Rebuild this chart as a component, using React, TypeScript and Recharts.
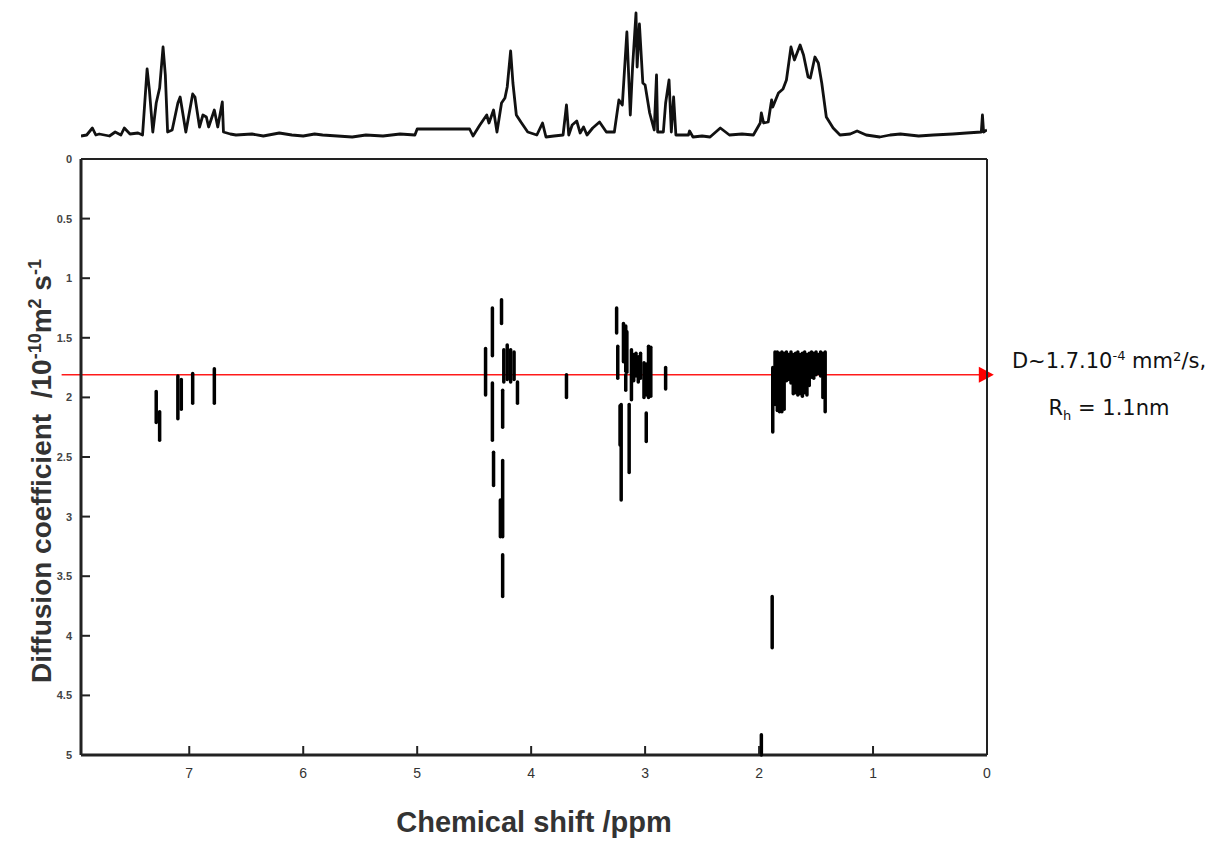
import { ComposedChart, LineChart, Line, Scatter, XAxis, YAxis, ReferenceLine } from 'recharts';

// chemical shift axis (ppm, reversed) and diffusion axis (inverted)
const PPM_MAX = 7.95;
const xTicks = [7, 6, 5, 4, 3, 2, 1, 0];
const yTicks = [0, 0.5, 1, 1.5, 2, 2.5, 3, 3.5, 4, 4.5, 5];
const bandD = 1.81;

// 1D proton spectrum on top: [ppm, intensity]
const spectrumPoints: [number, number][] = [
  [7.95, 4], [7.9, 5], [7.85, 12], [7.82, 5], [7.79, 6], [7.7, 4], [7.65, 8], [7.6, 5],
  [7.57, 12], [7.52, 6], [7.45, 7], [7.41, 5], [7.37, 71], [7.35, 50], [7.32, 8],
  [7.29, 37], [7.26, 52], [7.23, 93], [7.21, 65], [7.19, 8], [7.15, 10], [7.1, 37],
  [7.08, 43], [7.03, 8], [6.97, 46], [6.95, 43], [6.91, 13], [6.88, 25], [6.85, 23],
  [6.83, 13], [6.78, 30], [6.75, 13], [6.71, 38], [6.7, 8], [6.64, 6], [6.59, 5],
  [6.45, 6], [6.35, 4], [6.21, 7], [6.1, 5], [6.0, 4], [5.9, 6], [5.83, 5], [5.7, 4],
  [5.57, 3], [5.45, 5], [5.3, 4], [5.15, 6], [5.02, 5], [5.0, 11], [4.54, 11],
  [4.51, 4], [4.45, 15], [4.39, 25], [4.37, 17], [4.33, 30], [4.3, 8], [4.26, 37],
  [4.23, 42], [4.21, 53], [4.18, 89], [4.16, 57], [4.13, 25], [4.09, 18], [4.03, 8],
  [3.95, 5], [3.9, 17], [3.87, 3], [3.8, 4], [3.72, 5], [3.69, 35], [3.67, 5],
  [3.64, 15], [3.6, 19], [3.57, 7], [3.54, 13], [3.51, 5], [3.46, 12], [3.4, 18],
  [3.34, 8], [3.27, 8], [3.23, 40], [3.2, 35], [3.16, 108], [3.13, 25], [3.11, 73],
  [3.08, 127], [3.07, 73], [3.05, 116], [3.02, 57], [3.0, 55], [2.96, 27], [2.92, 10],
  [2.9, 65], [2.89, 8], [2.84, 8], [2.82, 37], [2.79, 60], [2.77, 8], [2.75, 43],
  [2.73, 5], [2.62, 5], [2.61, 9], [2.58, 3], [2.5, 4], [2.43, 3], [2.34, 12],
  [2.26, 5], [2.15, 6], [2.05, 5], [1.99, 17], [1.98, 27], [1.96, 17], [1.92, 18],
  [1.89, 40], [1.88, 33], [1.83, 47], [1.79, 51], [1.76, 60], [1.72, 93], [1.69, 80],
  [1.64, 95], [1.61, 85], [1.57, 63], [1.55, 62], [1.51, 83], [1.48, 77], [1.45, 57],
  [1.41, 23], [1.35, 12], [1.29, 5], [1.2, 6], [1.14, 9], [1.06, 5], [0.94, 3],
  [0.85, 5], [0.76, 6], [0.6, 4], [0.47, 5], [0.3, 6], [0.18, 7], [0.05, 8],
  [0.04, 25], [0.03, 8], [0.0, 10],
];

// DOSY cross peaks: [ppm, D top, D bottom]
const aromaticSpots: [number, number, number][] = [
  [7.29, 1.95, 2.21], [7.26, 2.12, 2.36], [7.1, 1.82, 2.18], [7.07, 1.85, 2.1],
  [6.97, 1.8, 2.05], [6.78, 1.76, 2.05],
];
const glycerolSpots: [number, number, number][] = [
  [4.4, 1.59, 1.98], [4.34, 1.25, 1.65], [4.34, 1.88, 2.36], [4.33, 2.46, 2.74],
  [4.26, 1.18, 1.38], [4.24, 1.6, 1.87], [4.21, 1.56, 1.85], [4.18, 1.6, 1.87],
  [4.15, 1.62, 1.85], [4.25, 1.94, 2.25], [4.12, 1.87, 2.05], [4.25, 2.53, 3.17],
  [4.27, 2.86, 3.17], [4.25, 3.32, 3.67], [3.69, 1.81, 2.0],
];
const methylSpots: [number, number, number][] = [
  [3.25, 1.25, 1.46], [3.24, 1.57, 1.84], [3.21, 2.06, 2.86], [3.22, 2.07, 2.4],
  [3.19, 1.38, 1.7], [3.17, 1.4, 1.78], [3.16, 1.45, 1.79], [3.17, 1.81, 1.94],
  [3.14, 2.06, 2.63], [3.12, 1.6, 2.02], [3.1, 1.64, 1.86], [3.08, 1.63, 1.82],
  [3.06, 1.66, 1.87], [3.04, 1.63, 1.84], [3.01, 1.71, 2.0], [2.99, 1.72, 1.98],
  [2.97, 1.57, 2.0], [2.95, 1.58, 1.99], [2.99, 2.13, 2.37], [2.82, 1.75, 1.93],
];
const aliphaticSpots: [number, number, number][] = [
  [1.88, 1.75, 2.29], [1.86, 1.62, 2.06], [1.84, 1.62, 2.11], [1.82, 1.63, 2.12],
  [1.8, 1.62, 2.12], [1.78, 1.63, 2.1], [1.76, 1.62, 1.86], [1.74, 1.64, 1.85],
  [1.72, 1.62, 1.88], [1.7, 1.64, 1.97], [1.68, 1.63, 1.96], [1.66, 1.62, 1.98],
  [1.64, 1.64, 1.97], [1.62, 1.63, 1.99], [1.6, 1.62, 1.96], [1.58, 1.64, 1.98],
  [1.56, 1.63, 1.9], [1.54, 1.62, 1.83], [1.52, 1.63, 1.84], [1.5, 1.62, 1.81],
  [1.48, 1.64, 1.8], [1.46, 1.62, 1.82], [1.44, 1.63, 2.0], [1.42, 1.62, 2.12],
];
const slowSpots: [number, number, number][] = [
  [1.885, 3.67, 4.1], [1.98, 4.83, 5.0],
];

const spectrumData = spectrumPoints.map(([ppm, intensity]) => ({ ppm, intensity }));
const allSpots = [...aromaticSpots, ...glycerolSpots, ...methylSpots, ...aliphaticSpots, ...slowSpots];
const spotSegments = allSpots.map(([ppm, d1, d2]) => [{ ppm, d: d1 }, { ppm, d: d2 }]);

const AXIS = '#222';
const narrow = "'Liberation Sans Narrow', 'Liberation Sans', Arial, sans-serif";

function BottomTick(props: any) {
  const { x, y, payload } = props;
  return (
    <g>
      <line x1={x} y1={y} x2={x} y2={y - 9} stroke={AXIS} strokeWidth={2} />
      <text x={x} y={y + 23} textAnchor="middle" fontSize={14} fill="#333" fontFamily={narrow}>
        {payload.value}
      </text>
    </g>
  );
}

function TopTick(props: any) {
  const { x, y } = props;
  return <line x1={x} y1={y} x2={x} y2={y + 8} stroke={AXIS} strokeWidth={2} />;
}

function LeftTick(props: any) {
  const { x, y, payload } = props;
  return (
    <g>
      <line x1={x} y1={y} x2={x + 9} y2={y} stroke={AXIS} strokeWidth={2} />
      <text x={x - 9} y={y + 4} textAnchor="end" fontSize={11} fontWeight="bold" fill="#444"
        fontFamily="'Liberation Sans', Arial, sans-serif">
        {payload.value}
      </text>
    </g>
  );
}

function RightTick(props: any) {
  const { x, y } = props;
  return <line x1={x} y1={y} x2={x - 8} y2={y} stroke={AXIS} strokeWidth={2} />;
}

function RedArrow(props: any) {
  const { x1, y1, x2, y2 } = props;
  return (
    <g>
      <line x1={x1} y1={y1} x2={x2 - 12} y2={y2} stroke="#ff1a1a" strokeWidth={1.6} />
      <polygon points={`${x2},${y2} ${x2 - 15},${y2 - 8} ${x2 - 15},${y2 + 8}`} fill="#ff0000" />
    </g>
  );
}

const NoDot = () => <g />;

export default function App() {
  return (
    <div style={{ position: 'absolute', left: 0, top: 0, width: 1223, height: 841, background: '#fff' }}>
      {/* 1D spectrum */}
      <div style={{ position: 'absolute', left: 0, top: 0 }}>
        <LineChart width={1223} height={150} data={spectrumData}
          margin={{ top: 10, right: 236, bottom: 10, left: 81 }}>
          <XAxis type="number" dataKey="ppm" domain={[0, PPM_MAX]} reversed hide allowDataOverflow />
          <YAxis type="number" domain={[0, 130]} hide allowDataOverflow />
          <Line type="linear" dataKey="intensity" stroke="#111" strokeWidth={2.8} dot={false}
            strokeLinejoin="round" isAnimationActive={false} />
        </LineChart>
      </div>

      {/* DOSY map */}
      <div style={{ position: 'absolute', left: 0, top: 0 }}>
        <ComposedChart width={1223} height={841}
          margin={{ top: 158, right: 235, bottom: 46, left: 21 }}>
          <XAxis xAxisId={0} dataKey="ppm" type="number" domain={[0, PPM_MAX]} reversed ticks={xTicks}
            interval={0} height={40} tickSize={0} tickMargin={0} tickLine={false}
            axisLine={{ stroke: AXIS, strokeWidth: 3 }} tick={<BottomTick />} />
          <XAxis xAxisId="top" dataKey="ppm" orientation="top" type="number" domain={[0, PPM_MAX]} reversed
            ticks={xTicks} interval={0} height={1} tickSize={0} tickMargin={0} tickLine={false}
            axisLine={{ stroke: AXIS, strokeWidth: 2 }} tick={<TopTick />} />
          <YAxis yAxisId={0} dataKey="d" type="number" domain={[0, 5]} reversed ticks={yTicks} interval={0}
            width={60} tickSize={0} tickMargin={0} tickLine={false}
            axisLine={{ stroke: AXIS, strokeWidth: 3 }} tick={<LeftTick />} />
          <YAxis yAxisId="right" dataKey="d" orientation="right" type="number" domain={[0, 5]} reversed
            ticks={yTicks} interval={0} width={1} tickSize={0} tickMargin={0} tickLine={false}
            axisLine={{ stroke: AXIS, strokeWidth: 2 }} tick={<RightTick />} />

          {spotSegments.map((seg, i) => (
            <Scatter key={i} xAxisId={0} yAxisId={0} data={seg} dataKey="d" fill="#000"
              line={{ stroke: '#000', strokeWidth: 3.5, strokeLinecap: 'round' }} lineType="joint"
              shape={<NoDot />} isAnimationActive={false} />
          ))}

          <ReferenceLine xAxisId={0} yAxisId={0} ifOverflow="visible"
            segment={[{ x: 8.12, y: bandD }, { x: -0.06, y: bandD }]} shape={RedArrow} />
        </ComposedChart>
      </div>

      {/* axis titles */}
      <div style={{
        position: 'absolute', left: 35 - 260, top: 471 - 18, width: 520, height: 36, lineHeight: '36px',
        transform: 'rotate(-90deg)', textAlign: 'center', fontFamily: "'Liberation Sans', Arial, sans-serif",
        fontWeight: 'bold', fontSize: 28, color: '#333', whiteSpace: 'nowrap',
      }}>
        Diffusion coefficient&nbsp; /10<sup style={{ fontSize: 18 }}>-10</sup>m<sup style={{ fontSize: 18 }}>2</sup> s<sup style={{ fontSize: 18 }}>-1</sup>
      </div>
      <div style={{
        position: 'absolute', left: 284, top: 806, width: 500, textAlign: 'center',
        fontFamily: "'Liberation Sans', Arial, sans-serif", fontWeight: 'bold', fontSize: 29, color: '#333',
      }}>
        Chemical shift /ppm
      </div>

      {/* annotation */}
      <div style={{
        position: 'absolute', left: 995, top: 338, width: 228, textAlign: 'center',
        fontFamily: "'DejaVu Sans', Verdana, sans-serif", fontSize: 21, lineHeight: '47px', color: '#111',
      }}>
        <div>D~1.7.10<sup style={{ fontSize: 13, lineHeight: 0, color: '#111' }}>-4</sup> mm²/s,</div>
        <div>R<sub style={{ fontSize: 13, lineHeight: 0, color: '#111' }}>h</sub> = 1.1nm</div>
      </div>
    </div>
  );
}
